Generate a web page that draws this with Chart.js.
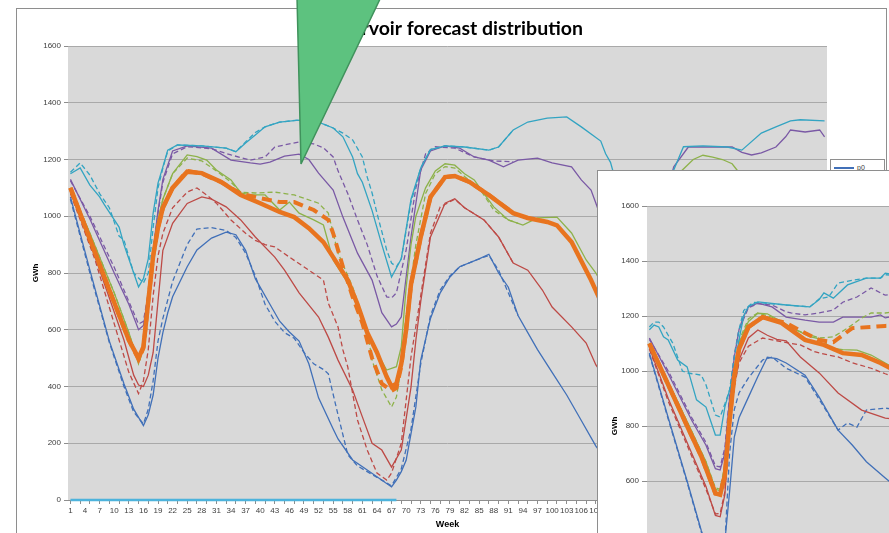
<!DOCTYPE html>
<html>
<head>
<meta charset="utf-8">
<script src="https://cdn.jsdelivr.net/npm/chart.js@4.4.1/dist/chart.umd.min.js"></script>
<style>
  body { margin: 0; width: 889px; height: 533px; overflow: hidden; background: #fff; position: relative; font-family: "Liberation Sans", Arial, sans-serif; }
  .frame { position: absolute; border: 1px solid #8e8e8e; background: #fff; }
  #mainBox { left: 16px; top: 8px; width: 869px; height: 545px; z-index: 1; }
  #insetBox { left: 597px; top: 170px; width: 843px; height: 540px; z-index: 3; }
  #legend { position: absolute; left: 830px; top: 159px; width: 55px; height: 232px; border: 1px solid #8e8e8e; background: #fff; z-index: 2; box-sizing: border-box; }
  #legend .item { position: absolute; left: 3px; height: 10px; font-size: 7px; color: #404040; }
  #legend .item span.ln { position: absolute; left: 0; top: 4px; width: 20px; border-top: 2px solid; }
  #legend .item span.tx { position: absolute; left: 23px; top: 0; line-height: 9px; }
  #callout { position: absolute; left: 0; top: 0; z-index: 5; }
  canvas { display: block; }
</style>
</head>
<body>
<div class="frame" id="mainBox"><canvas id="main" width="869" height="545"></canvas></div>
<div id="legend"></div>
<div class="frame" id="insetBox"><canvas id="inset" width="843" height="540"></canvas></div>
<svg id="callout" width="889" height="533">
  <polygon points="297,-3 381,-3 301,164" fill="#5dc27f" stroke="#40925c" stroke-width="1.5"/>
</svg>
<script>
// weeks on the category axis
const weeks = Array.from({ length: 156 }, (_, i) => i + 1);
const gwhMax = 1600;
const gwhStep = 200;

// ---- main chart, [week, GWh] ----
const mainBlue = [[1,1068],[5,810],[9,560],[12,410],[14,320],[16,262],[17,300],[18,370],[19,500],[20,590],[21,660],[22,716],[25,822],[27,881],[30,923],[33,944],[35,935],[37,880],[39,780],[42,690],[44,630],[46,592],[48,560],[50,480],[52,360],[55,250],[56,215],[59,141],[62,106],[67,46],[68,70],[69,100],[70,140],[72,328],[73,493],[75,640],[77,730],[79,786],[81,822],[85,850],[87,866],[89,800],[91,750],[93,650],[95,590],[97,530],[100,450],[103,370],[106,280],[109,190],[112,120],[116,60],[119,40],[122,200],[125,600],[128,900],[132,1000],[136,1010],[140,900],[145,750],[150,600],[156,450]];
const mainBlueDash = [[1,1060],[5,800],[9,555],[12,400],[14,310],[16,268],[17,320],[18,420],[19,560],[20,640],[22,770],[25,900],[27,955],[30,960],[33,950],[35,925],[37,870],[39,790],[41,690],[43,630],[45,590],[47,570],[49,520],[51,480],[53,460],[54,445],[56,300],[58,160],[60,120],[62,100],[65,70],[67,50],[69,110],[71,250],[73,480],[75,650],[77,740],[79,790],[81,822],[85,850],[87,862],[89,810],[91,730],[93,650]];
const mainRed = [[1,1085],[6,860],[12,564],[14,440],[15,405],[16,400],[17,440],[18,520],[19,700],[20,880],[22,975],[25,1045],[28,1068],[30,1060],[33,1033],[36,987],[39,927],[43,856],[45,810],[48,730],[52,645],[54,574],[56,493],[59,388],[61,293],[63,200],[65,176],[67,116],[69,176],[71,398],[72,564],[73,700],[75,927],[78,1046],[80,1062],[82,1030],[86,987],[89,927],[92,835],[95,810],[98,740],[100,680],[104,610],[107,553],[109,476],[112,400],[115,300],[119,150],[122,400],[126,900],[130,1100],[134,1080],[140,950],[148,820],[156,700]];
const mainRedDash = [[1,1080],[6,850],[11,564],[13,450],[15,375],[16,420],[17,530],[18,720],[19,860],[20,940],[22,1030],[25,1085],[27,1100],[29,1075],[31,1046],[34,987],[37,940],[39,915],[41,900],[43,892],[46,856],[50,810],[53,775],[54,694],[56,610],[57,529],[58,469],[60,282],[62,176],[64,95],[66,70],[67,95],[69,200],[71,504],[73,720],[75,940],[77,1033],[80,1060],[82,1030],[86,987],[89,927],[92,835]];
const mainGreen = [[1,1100],[5,940],[10,730],[13,590],[15,485],[16,540],[17,710],[18,880],[19,990],[20,1060],[22,1150],[25,1216],[27,1210],[29,1198],[31,1163],[34,1128],[36,1082],[38,1075],[41,1075],[44,1022],[46,1050],[48,1011],[51,987],[53,969],[55,846],[58,765],[60,680],[62,590],[64,520],[66,458],[68,470],[69,540],[70,750],[71,900],[72,1000],[74,1100],[76,1160],[78,1185],[80,1180],[82,1150],[84,1128],[86,1080],[88,1033],[91,987],[94,969],[97,994],[101,997],[104,941],[107,846],[109,800],[112,700],[116,600],[119,560],[122,900],[126,1150],[129,1200],[131,1215],[133,1208],[135,1200],[137,1185],[138,1163],[140,1120],[145,1080],[150,1050],[156,980]];
const mainGreenDash = [[1,1100],[5,940],[10,730],[13,590],[15,480],[16,530],[17,700],[18,880],[20,1060],[22,1150],[25,1205],[28,1195],[31,1160],[34,1120],[36,1085],[39,1082],[43,1085],[47,1075],[52,1046],[54,1011],[56,870],[59,751],[62,599],[63,493],[65,388],[67,328],[68,363],[69,469],[70,650],[72,900],[74,1080],[76,1150],[78,1175],[80,1170],[82,1140],[85,1100],[88,1022],[91,987],[93,975]];
const mainOrange = [[1,1100],[5,920],[9,740],[13,564],[15,500],[16,540],[17,700],[18,860],[19,960],[20,1030],[22,1100],[25,1157],[28,1152],[32,1121],[36,1075],[40,1046],[44,1015],[47,997],[50,958],[53,909],[55,856],[58,775],[60,690],[62,590],[64,520],[66,434],[67,400],[68,410],[69,480],[70,600],[71,760],[73,927],[75,1068],[78,1138],[80,1142],[83,1121],[87,1075],[92,1011],[95,994],[99,980],[101,968],[104,909],[108,775],[110,700],[114,600],[118,500],[121,600],[125,1000],[128,1130],[132,1150],[138,1100],[145,1060],[150,1040],[156,1000]];
const mainOrangeDash = [[1,1100],[5,920],[9,740],[13,564],[15,495],[16,535],[17,700],[18,860],[19,960],[20,1030],[22,1100],[25,1160],[28,1150],[32,1120],[36,1080],[40,1064],[44,1050],[47,1050],[51,1022],[54,987],[55,940],[57,822],[59,716],[61,624],[63,500],[65,410],[67,385],[68,395],[69,470],[70,600],[71,760],[73,927],[75,1068],[78,1138],[80,1142],[83,1121],[87,1075],[92,1011]];
const mainPurple = [[1,1130],[5,990],[10,800],[13,690],[15,600],[16,615],[17,720],[18,880],[19,1020],[20,1130],[22,1230],[25,1248],[30,1240],[34,1198],[38,1188],[40,1184],[42,1191],[45,1212],[48,1219],[50,1200],[52,1152],[55,1092],[57,997],[60,870],[63,775],[65,660],[67,610],[68,620],[69,645],[71,927],[73,1163],[75,1230],[78,1248],[81,1240],[84,1209],[87,1198],[90,1174],[93,1198],[97,1205],[100,1188],[104,1174],[106,1128],[108,1092],[109,1046],[112,900],[116,700],[119,620],[121,800],[123,1050],[125,1174],[128,1244],[131,1244],[134,1244],[137,1244],[139,1225],[141,1216],[143,1223],[146,1244],[148,1280],[149,1304],[152,1297],[155,1304],[156,1280]];
const mainPurpleDash = [[1,1125],[5,1000],[10,820],[13,700],[15,620],[16,630],[17,730],[18,880],[19,1010],[20,1120],[22,1220],[25,1245],[30,1238],[34,1216],[38,1198],[41,1209],[43,1244],[46,1255],[48,1262],[51,1255],[53,1241],[55,1209],[56,1160],[58,1080],[60,987],[62,900],[64,790],[66,716],[67,712],[68,730],[70,881],[72,1100],[74,1220],[76,1245],[80,1240],[84,1209],[88,1195],[92,1192]];
const mainTeal = [[1,1150],[3,1170],[5,1110],[7,1068],[8,1040],[11,962],[12,900],[13,850],[15,751],[16,780],[17,850],[18,1011],[19,1117],[20,1174],[21,1233],[23,1251],[28,1248],[33,1240],[35,1227],[37,1258],[39,1286],[41,1315],[44,1332],[48,1339],[52,1332],[55,1311],[57,1280],[59,1209],[60,1150],[61,1120],[63,1020],[65,900],[67,786],[69,850],[71,1060],[73,1170],[75,1235],[78,1248],[82,1244],[87,1233],[89,1244],[92,1304],[95,1332],[99,1346],[103,1350],[106,1315],[110,1265],[111,1220],[112,1190],[113,1128],[115,1000],[118,850],[120,800],[122,950],[124,1100],[125,1163],[127,1245],[131,1248],[136,1244],[139,1233],[143,1293],[146,1315],[149,1336],[151,1340],[156,1336]];
const mainTealDash = [[1,1155],[3,1188],[5,1145],[7,1080],[9,1030],[11,930],[12,916],[14,800],[16,765],[17,800],[18,960],[19,1100],[20,1170],[21,1230],[23,1251],[28,1248],[33,1240],[35,1228],[37,1262],[39,1295],[41,1315],[44,1332],[48,1339],[52,1332],[55,1311],[57,1293],[59,1269],[61,1209],[62,1138],[63,1082],[64,1011],[66,881],[67,835],[68,822],[69,850],[71,1050],[73,1170],[75,1235],[78,1248],[82,1244],[87,1233],[89,1244],[92,1304]];
const mainZero = [[1,0],[68,0]];

// ---- inset chart (second forecast) ----
const insetBlue = [[1,1065],[5,830],[9,600],[12,420],[14,320],[15,285],[16,290],[17,380],[18,560],[19,760],[20,830],[22,905],[24,980],[26,1050],[28,1045],[30,1029],[34,985],[37,905],[41,785],[44,731],[47,670],[51,611],[56,540]];
const insetBlueDash = [[1,1060],[5,825],[9,595],[12,415],[14,315],[16,285],[17,370],[18,700],[19,860],[20,920],[22,975],[25,1040],[27,1051],[30,1010],[34,978],[38,869],[41,785],[43,811],[45,796],[47,858],[51,865],[53,860],[56,850]];
const insetRed = [[1,1085],[5,900],[10,700],[13,580],[15,475],[16,470],[17,550],[18,800],[19,950],[20,1040],[22,1120],[24,1149],[26,1130],[28,1115],[30,1110],[33,1051],[37,993],[41,920],[46,858],[51,829],[53,825],[56,815]];
const insetRedDash = [[1,1080],[5,890],[10,690],[13,570],[15,480],[16,482],[17,560],[18,790],[19,940],[20,1030],[22,1090],[25,1120],[28,1110],[31,1100],[33,1095],[36,1070],[39,1058],[41,1051],[44,1030],[48,1010],[51,990],[56,960]];
const insetGreen = [[1,1100],[5,960],[10,780],[13,670],[15,570],[16,565],[17,650],[18,850],[19,1000],[20,1100],[22,1180],[24,1210],[26,1208],[29,1180],[32,1150],[35,1125],[38,1113],[39,1084],[42,1078],[45,1076],[48,1058],[51,1029],[53,1010],[56,990]];
const insetGreenDash = [[1,1100],[5,960],[10,780],[13,670],[15,575],[16,570],[17,660],[18,860],[19,1010],[20,1110],[22,1190],[24,1211],[27,1196],[30,1160],[34,1138],[37,1120],[40,1124],[43,1156],[46,1193],[48,1211],[51,1211],[53,1215],[56,1210]];
const insetOrange = [[1,1100],[5,950],[9,800],[12,690],[14,600],[15,555],[16,550],[17,620],[18,820],[19,980],[20,1080],[22,1160],[25,1196],[29,1175],[34,1113],[38,1095],[42,1065],[46,1058],[50,1029],[52,1011],[56,985]];
const insetOrangeDash = [[1,1100],[5,950],[9,800],[12,690],[14,600],[15,555],[16,552],[17,620],[18,820],[19,980],[20,1080],[22,1160],[25,1196],[30,1175],[34,1138],[37,1113],[40,1105],[44,1156],[48,1160],[51,1164],[53,1165],[56,1165]];
const insetPurple = [[1,1120],[5,990],[10,820],[13,730],[15,645],[16,640],[17,700],[18,900],[19,1050],[20,1150],[21,1200],[22,1233],[24,1247],[27,1233],[30,1196],[34,1185],[37,1178],[40,1178],[42,1196],[45,1196],[48,1196],[50,1204],[51,1193],[53,1200],[56,1195]];
const insetPurpleDash = [[1,1115],[5,1000],[10,830],[13,740],[15,655],[16,651],[17,720],[18,910],[19,1060],[20,1150],[22,1230],[24,1245],[27,1240],[30,1215],[31,1211],[34,1204],[37,1211],[40,1222],[42,1250],[45,1269],[48,1302],[50,1284],[51,1276],[53,1280],[56,1275]];
const insetTeal = [[1,1150],[2,1167],[3,1160],[4,1124],[5,1113],[7,1040],[9,1015],[11,895],[13,869],[15,767],[16,767],[17,869],[19,993],[20,1113],[21,1200],[22,1235],[24,1251],[30,1240],[35,1233],[37,1260],[38,1284],[40,1265],[43,1313],[47,1338],[50,1338],[51,1356],[53,1350],[56,1345]];
const insetTealDash = [[1,1160],[2,1178],[3,1178],[4,1160],[6,1100],[8,1000],[9,993],[12,985],[13,950],[15,840],[16,833],[17,880],[18,931],[19,1050],[20,1150],[21,1220],[23,1250],[30,1240],[35,1233],[37,1262],[39,1269],[41,1320],[44,1330],[47,1338],[50,1338],[51,1350],[56,1345]];

const colors = {
  blue: '#4170b8', red: '#bd4a46', green: '#8db24a', purple: '#7a59a5',
  teal: '#33a4c2', orange: '#e8741f', zero: '#4db3dc'
};

function pts(pairs) {
  return pairs.map(([w, v]) => ({ x: w, y: v }));
}

function ds(label, pairs, color, dashed, thick, order) {
  return {
    label: label,
    data: pts(pairs),
    borderColor: color,
    borderWidth: thick ? (dashed ? 4 : 4.5) : 1.3,
    borderDash: dashed ? (thick ? [10, 6] : [5, 3]) : [],
    pointRadius: 0,
    tension: 0,
    yAxisID: 'y',
    xAxisID: 'x',
    order: order
  };
}

const plotBg = {
  id: 'plotBg',
  beforeDraw(chart) {
    const { ctx, chartArea: a } = chart;
    ctx.save();
    ctx.fillStyle = '#d9d9d9';
    ctx.fillRect(a.left, a.top, a.right - a.left, a.bottom - a.top);
    ctx.restore();
  }
};

function options(cfg) {
  return {
    responsive: false,
    animation: false,
    layout: { padding: { top: cfg.top || 0 } },
    plugins: {
      legend: { display: false },
      tooltip: { enabled: false },
      title: cfg.title ? {
        display: true,
        text: cfg.title,
        color: '#000',
        font: { family: 'Lato', size: 19.5, weight: 'bold' },
        padding: { top: 8, bottom: 5.6 }
      } : { display: false }
    },
    scales: {
      x: {
        type: 'category',
        offset: true,
        grid: {
          drawOnChartArea: false, drawTicks: true, tickLength: 4,
          tickColor: c => (c.index % 2 === 0 ? '#8e8e8e' : 'rgba(0,0,0,0)')
        },
        border: { display: true, color: '#8e8e8e' },
        ticks: {
          autoSkip: false, maxRotation: 0, minRotation: 0, padding: 2,
          color: '#404040', font: { family: 'Liberation Sans', size: 8 },
          callback: (v, i) => (i % 3 === 0 ? String(weeks[i]) : '')
        },
        title: {
          display: true, text: 'Week', color: '#000',
          font: { family: 'Liberation Sans', size: 9, weight: 'bold' },
          padding: { top: 0, bottom: cfg.weekPad }
        },
        afterFit: s => { s.height = cfg.xh; }
      },
      y: {
        min: 0, max: gwhMax,
        ticks: {
          stepSize: gwhStep, padding: 3, color: '#404040',
          font: { family: 'Liberation Sans', size: 8 },
          callback: v => String(v)
        },
        grid: { color: '#a9a9a9', tickLength: cfg.yTick, tickColor: '#8e8e8e' },
        border: { display: false },
        title: {
          display: true, text: 'GWh', color: '#000',
          font: { family: 'Liberation Sans', size: 8, weight: 'bold' },
          padding: { top: cfg.gwhPad, bottom: 0 }
        },
        afterFit: s => { s.width = cfg.yw; }
      },
      yRight: {
        position: 'right', display: true,
        grid: { display: false }, ticks: { display: false }, border: { display: false },
        afterFit: s => { s.width = cfg.rw; }
      }
    }
  };
}

const mainChart = new Chart(document.getElementById('main'), {
  type: 'line',
  data: {
    labels: weeks,
    datasets: [
      ds('p0', mainBlue, colors.blue, false, false, 10),
      ds('p0 prev', mainBlueDash, colors.blue, true, false, 11),
      ds('p10', mainRed, colors.red, false, false, 8),
      ds('p10 prev', mainRedDash, colors.red, true, false, 9),
      ds('p25', mainGreen, colors.green, false, false, 4),
      ds('p25 prev', mainGreenDash, colors.green, true, false, 5),
      ds('p50', mainOrange, colors.orange, false, true, 0),
      ds('p50 prev', mainOrangeDash, colors.orange, true, true, 1),
      ds('p75', mainPurple, colors.purple, false, false, 6),
      ds('p75 prev', mainPurpleDash, colors.purple, true, false, 7),
      ds('p100', mainTeal, colors.teal, false, false, 2),
      ds('p100 prev', mainTealDash, colors.teal, true, false, 3),
      Object.assign(ds('min', mainZero, colors.zero, false, false, -1), { borderWidth: 2.5, clip: 6 })
    ]
  },
  options: options({ title: 'Reservoir forecast distribution', xh: 54, weekPad: 24, yw: 51, rw: 59, yTick: 4, gwhPad: 14 }),
  plugins: [plotBg]
});

new Chart(document.getElementById('inset'), {
  type: 'line',
  data: {
    labels: weeks,
    datasets: [
      ds('p0', insetBlue, colors.blue, false, false, 10),
      ds('p0 prev', insetBlueDash, colors.blue, true, false, 11),
      ds('p10', insetRed, colors.red, false, false, 8),
      ds('p10 prev', insetRedDash, colors.red, true, false, 9),
      ds('p25', insetGreen, colors.green, false, false, 4),
      ds('p25 prev', insetGreenDash, colors.green, true, false, 5),
      ds('p50', insetOrange, colors.orange, false, true, 0),
      ds('p50 prev', insetOrangeDash, colors.orange, true, true, 1),
      ds('p75', insetPurple, colors.purple, false, false, 6),
      ds('p75 prev', insetPurpleDash, colors.purple, true, false, 7),
      ds('p100', insetTeal, colors.teal, false, false, 2),
      ds('p100 prev', insetTealDash, colors.teal, true, false, 3)
    ]
  },
  options: options({ top: 35, xh: 65, weekPad: 30, yw: 49, rw: 58, yTick: 5, gwhPad: 12 }),
  plugins: [plotBg]
});

// legend box of the main chart (mostly hidden behind the inset)
const legendEl = document.getElementById('legend');
mainChart.data.datasets.forEach((d, i) => {
  const item = document.createElement('div');
  item.className = 'item';
  item.style.top = (3 + i * 17) + 'px';
  item.innerHTML = '<span class="ln" style="border-top-color:' + d.borderColor +
    ';border-top-style:' + (d.borderDash.length ? 'dashed' : 'solid') + '"></span><span class="tx">' + d.label + '</span>';
  legendEl.appendChild(item);
});
</script>
</body>
</html>
